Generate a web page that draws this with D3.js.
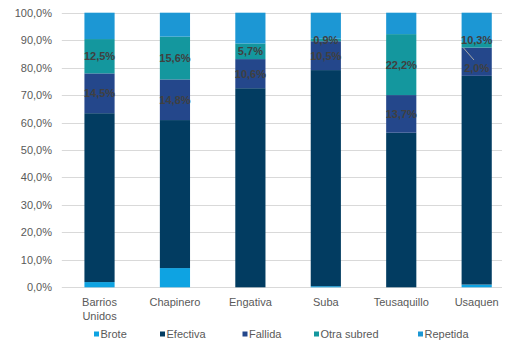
<!DOCTYPE html>
<html>
<head>
<meta charset="utf-8">
<script src="https://cdn.jsdelivr.net/npm/d3@7"></script>
<style>
  html, body { margin: 0; padding: 0; background: #fff; }
  svg { display: block; font-family: "Liberation Sans", Arial, sans-serif; }
</style>
</head>
<body>
<svg id="chart" width="506" height="345"></svg>
<script>
// Subred breakdown per locality (percent of cases)
const categories = ["Barrios Unidos", "Chapinero", "Engativa", "Suba", "Teusaquillo", "Usaquen"];
const seriesNames = ["Brote", "Efectiva", "Fallida", "Otra subred", "Repetida"];
const brote      = [1.9, 7.0, 0.0, 0.4, 0.0, 1.0];
const efectiva   = [61.5, 53.9, 72.5, 78.7, 56.3, 76.0];
const fallida    = [14.5, 14.8, 10.6, 10.5, 13.7, 10.3];
const otraSubred = [12.5, 15.6, 5.7, 0.9, 22.2, 2.0];
const repetida   = [9.6, 8.7, 11.2, 9.5, 7.8, 10.7];
const yTicks = [0, 10, 20, 30, 40, 50, 60, 70, 80, 90, 100];
const labelledSeries = ["Fallida", "Otra subred"];

const colors = {
  "Brote": "#0EA3E2",
  "Efectiva": "#023C61",
  "Fallida": "#24478B",
  "Otra subred": "#14979E",
  "Repetida": "#1C97D4"
};

const seriesValues = [brote, efectiva, fallida, otraSubred, repetida];
const rows = categories.map((c, i) => {
  const r = { cat: c };
  seriesNames.forEach((s, k) => { r[s] = seriesValues[k][i]; });
  return r;
});
const stacked = d3.stack().keys(seriesNames)(rows);

const svg = d3.select("#chart");
const x = d3.scaleBand().domain(categories).range([61.8, 514.4]).paddingInner(0.6).paddingOuter(0.3);
const y = d3.scaleLinear().domain([0, 100]).range([287.3, 12.7]);
const fmt = v => d3.format(".1f")(v).replace(".", ",") + "%";

// gridlines
svg.append("g").selectAll("line").data(yTicks).join("line")
  .attr("x1", 61.8).attr("x2", 502)
  .attr("y1", d => Math.round(y(d)) + 0.5).attr("y2", d => Math.round(y(d)) + 0.5)
  .attr("stroke", "#D9D9D9").attr("stroke-width", 1);

// y axis labels
const yAxis = d3.axisLeft(y).tickValues(yTicks).tickSize(0).tickPadding(0).tickFormat(fmt);
const gy = svg.append("g").attr("transform", "translate(52,0)").call(yAxis);
gy.select(".domain").remove();
gy.selectAll("text").attr("fill", "#595959").style("font-size", "11px")
  .style("font-family", "'Liberation Sans', Arial, sans-serif");

// bars
svg.append("g").selectAll("g").data(stacked).join("g")
  .attr("fill", d => colors[d.key])
  .selectAll("rect").data(d => d).join("rect")
  .attr("x", d => x(d.data.cat))
  .attr("width", x.bandwidth())
  .attr("y", d => y(d[1]))
  .attr("height", d => y(d[0]) - y(d[1]));

// data labels (Usaquen's two small labels are moved apart)
const moved = {
  "Usaquen|Fallida": { dy: -21.7, leader: true },
  "Usaquen|Otra subred": { dy: 23 }
};
const lg = svg.append("g");
stacked.filter(s => labelledSeries.includes(s.key)).forEach(s => {
  s.forEach(d => {
    const cx = x(d.data.cat) + x.bandwidth() / 2;
    const cy = (y(d[0]) + y(d[1])) / 2;
    const m = moved[d.data.cat + "|" + s.key] || { dy: 0 };
    const ly = cy + m.dy;
    if (m.leader) {
      lg.append("line")
        .attr("x1", cx - 13.4).attr("y1", ly + 7.7)
        .attr("x2", cx - 2.7).attr("y2", cy - 1.7)
        .attr("stroke", "#A6A6A6").attr("stroke-width", 1);
    }
    lg.append("text")
      .attr("x", cx).attr("y", ly)
      .attr("text-anchor", "middle").attr("dominant-baseline", "central")
      .attr("fill", "#404040").style("font-size", "11px").style("font-weight", "bold")
      .text(fmt(d.data[s.key]));
  });
});

// x axis category labels
const xl = svg.append("g");
categories.forEach(c => {
  const words = c.split(" ");
  const t = xl.append("text")
    .attr("x", x(c) + x.bandwidth() / 2).attr("y", 305.5)
    .attr("text-anchor", "middle").attr("fill", "#595959").style("font-size", "11px");
  words.forEach((w, i) => {
    t.append("tspan").attr("x", x(c) + x.bandwidth() / 2).attr("dy", i === 0 ? 0 : 14).text(w);
  });
});

// legend
const legendX = [94, 160, 242.5, 314, 418];
const legend = svg.append("g").selectAll("g").data(seriesNames).join("g")
  .attr("transform", (d, i) => `translate(${legendX[i]},334)`);
legend.append("rect").attr("x", 0).attr("y", -2.5).attr("width", 5).attr("height", 5)
  .attr("fill", d => colors[d]);
legend.append("text").attr("x", 6.5).attr("y", 0).attr("dominant-baseline", "central")
  .attr("fill", "#595959").style("font-size", "11px").text(d => d);
</script>
</body>
</html>
